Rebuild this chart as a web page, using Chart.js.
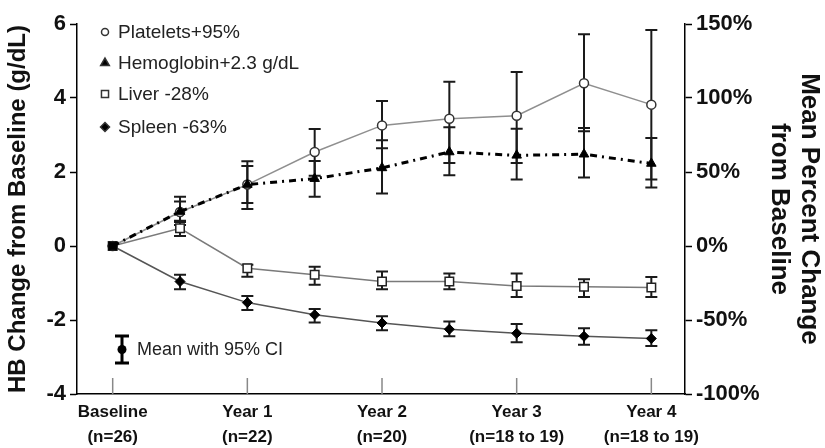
<!DOCTYPE html>
<html>
<head>
<meta charset="utf-8">
<script src="https://cdn.jsdelivr.net/npm/chart.js@4.4.1/dist/chart.umd.min.js"></script>
<style>
	html, body { margin: 0; padding: 0; background: #fff; }
	#wrap { width: 825px; height: 448px; }
</style>
</head>
<body>
<div id="wrap"><canvas id="mycanvas" width="825" height="448"></canvas></div>
<script>
// visits every 6 months, 0 = baseline ... 8 = year 4
var visits = [0, 1, 2, 3, 4, 5, 6, 7, 8];
var tickPos = [0, 2, 4, 6, 8];
var tickLabels = [
	['Baseline', '(n=26)'],
	['Year 1', '(n=22)'],
	['Year 2', '(n=20)'],
	['Year 3', '(n=18 to 19)'],
	['Year 4', '(n=18 to 19)']
];

// hemoglobin, g/dL change (left axis)
var hemoglobin = [0, 0.93, 1.66, 1.82, 2.11, 2.54, 2.45, 2.48, 2.23];
var hemoglobinLow = [null, 0.57, 1.0, 1.33, 1.42, 1.91, 1.80, 1.85, 1.58];
var hemoglobinHigh = [null, 1.33, 2.29, 2.30, 2.86, 3.21, 3.17, 3.19, 2.92];

// percent change (right axis)
var platelets = [0, 23, 41.5, 63.5, 81.5, 86, 88, 110, 95.5];
var plateletsLow = [null, 17, 29, 47.5, 66, 56, 56, 77.5, 45];
var plateletsHigh = [null, 30, 54, 79, 98, 111, 117.5, 143, 146];

var liver = [0, 12, -15, -19.5, -24, -24, -27, -27.5, -28];
var liverLow = [null, 6.75, -20.75, -26.25, -29.25, -29.25, -34.5, -34.5, -34.5];
var liverHigh = [null, 16.25, -12.75, -14, -17.25, -18.5, -18.5, -22.5, -21];

var spleen = [0, -24, -38.25, -46.5, -52, -56.25, -59, -61, -62.5];
var spleenLow = [null, -29.25, -43.25, -51.75, -57, -61, -65, -66.75, -67.5];
var spleenHigh = [null, -19.5, -33.75, -42.5, -47.5, -51, -52.75, -55.5, -57];

var legendNames = ['Platelets+95%', 'Hemoglobin+2.3 g/dL', 'Liver -28%', 'Spleen -63%'];

function toPoints(arr) {
	var out = [];
	for (var i in arr) {
		out.push({x: visits[i], y: arr[i]});
	}
	return out;
}

var FONT = '"Liberation Sans", Arial, Helvetica, sans-serif';

var ciBars = {
	id: 'ciBars',
	beforeDatasetsDraw: function(chart) {
		var ctx = chart.ctx;
		var xs = chart.scales.x;
		chart.data.datasets.forEach(function(ds) {
			if (!ds.ciLow) return;
			var ys = chart.scales[ds.yAxisID];
			ctx.save();
			ctx.strokeStyle = '#1a1a1a';
			ctx.lineWidth = 2;
			for (var j = 0; j < ds.ciLow.length; j++) {
				if (ds.ciLow[j] === null) continue;
				var px = xs.getPixelForValue(visits[j]);
				var y1 = ys.getPixelForValue(ds.ciLow[j]);
				var y2 = ys.getPixelForValue(ds.ciHigh[j]);
				ctx.beginPath();
				ctx.moveTo(px, y1); ctx.lineTo(px, y2);
				ctx.moveTo(px - 6, y1); ctx.lineTo(px + 6, y1);
				ctx.moveTo(px - 6, y2); ctx.lineTo(px + 6, y2);
				ctx.stroke();
			}
			ctx.restore();
		});
	}
};

var extras = {
	id: 'extras',
	afterDraw: function(chart) {
		var ctx = chart.ctx;
		var area = chart.chartArea;
		var xs = chart.scales.x;
		ctx.save();

		// short inner ticks on the x axis
		ctx.strokeStyle = '#888';
		ctx.lineWidth = 1.5;
		tickPos.forEach(function(v) {
			var px = xs.getPixelForValue(v);
			ctx.beginPath();
			ctx.moveTo(px, area.bottom);
			ctx.lineTo(px, area.bottom - 16);
			ctx.stroke();
		});

		// legend top left
		var styles = [
			{pointStyle: 'circle', radius: 3.5, fill: '#fff'},
			{pointStyle: 'triangle', radius: 5, fill: '#000'},
			{pointStyle: 'rect', radius: 5, fill: '#fff'},
			{pointStyle: 'rectRot', radius: 4.5, fill: '#000'}
		];
		var rows = [8, 39, 70, 103];
		ctx.font = '19px ' + FONT;
		ctx.textBaseline = 'middle';
		ctx.textAlign = 'left';
		for (var i = 0; i < legendNames.length; i++) {
			var y = area.top + rows[i];
			ctx.fillStyle = styles[i].fill;
			ctx.strokeStyle = '#333';
			Chart.helpers.drawPoint(ctx, {pointStyle: styles[i].pointStyle, radius: styles[i].radius, rotation: 0, borderWidth: 1}, area.left + 28, y);
			ctx.fillStyle = '#222';
			ctx.fillText(legendNames[i], area.left + 41, y + 1);
		}

		// CI key
		var kx = area.left + 45, ky1 = area.bottom - 58, ky2 = area.bottom - 31;
		ctx.strokeStyle = '#000';
		ctx.lineWidth = 3;
		ctx.beginPath();
		ctx.moveTo(kx, ky1); ctx.lineTo(kx, ky2);
		ctx.moveTo(kx - 7, ky1); ctx.lineTo(kx + 7, ky1);
		ctx.moveTo(kx - 7, ky2); ctx.lineTo(kx + 7, ky2);
		ctx.stroke();
		ctx.fillStyle = '#000';
		ctx.beginPath();
		ctx.arc(kx, (ky1 + ky2) / 2, 4.5, 0, Math.PI * 2);
		ctx.fill();
		ctx.font = '18px ' + FONT;
		ctx.fillStyle = '#222';
		ctx.fillText('Mean with 95% CI', kx + 15, (ky1 + ky2) / 2 + 1);
		ctx.restore();
	}
};

var chartdata = {
	datasets: [
		{
			label: 'Hemoglobin',
			yAxisID: 'y',
			data: toPoints(hemoglobin),
			ciLow: hemoglobinLow,
			ciHigh: hemoglobinHigh,
			borderColor: '#000',
			borderWidth: 3,
			borderDash: [7, 5, 2, 5],
			pointStyle: function(c) { return c.dataIndex === 0 ? 'rect' : 'triangle'; },
			pointRadius: 5.5,
			pointBackgroundColor: '#000',
			pointBorderColor: '#000',
			pointBorderWidth: 1
		},
		{
			label: 'Platelets',
			yAxisID: 'yR',
			data: toPoints(platelets),
			ciLow: plateletsLow,
			ciHigh: plateletsHigh,
			borderColor: '#8f8f8f',
			borderWidth: 1.5,
			pointStyle: 'circle',
			pointRadius: 4.5,
			pointBackgroundColor: '#fff',
			pointBorderColor: '#333',
			pointBorderWidth: 1.5
		},
		{
			label: 'Liver',
			yAxisID: 'yR',
			data: toPoints(liver),
			ciLow: liverLow,
			ciHigh: liverHigh,
			borderColor: '#7a7a7a',
			borderWidth: 1.5,
			pointStyle: 'rect',
			pointRadius: 6,
			pointBackgroundColor: '#fff',
			pointBorderColor: '#222',
			pointBorderWidth: 1.5
		},
		{
			label: 'Spleen',
			yAxisID: 'yR',
			data: toPoints(spleen),
			ciLow: spleenLow,
			ciHigh: spleenHigh,
			borderColor: '#555',
			borderWidth: 1.5,
			pointStyle: 'rectRot',
			pointRadius: 5,
			pointBackgroundColor: '#000',
			pointBorderColor: '#000',
			pointBorderWidth: 1
		}
	]
};

var ctx = document.getElementById('mycanvas');

var LineGraph = new Chart(ctx, {
	type: 'line',
	data: chartdata,
	plugins: [ciBars, extras],
	options: {
		responsive: false,
		animation: false,
		devicePixelRatio: 1,
		layout: { padding: { top: 24, right: 0, bottom: 0, left: 0 } },
		plugins: {
			legend: { display: false },
			tooltip: { enabled: false }
		},
		elements: { line: { tension: 0 } },
		scales: {
			x: {
				type: 'linear',
				min: -0.53,
				max: 8.5,
				afterBuildTicks: function(scale) {
					scale.ticks = tickPos.map(function(v) { return {value: v}; });
				},
				afterFit: function(scale) { scale.height = 54; },
				grid: { display: true, drawOnChartArea: false, drawTicks: false },
				border: { display: true, color: '#000', width: 1.5 },
				ticks: {
					autoSkip: false,
					maxRotation: 0,
					padding: 6,
					color: '#111',
					font: { family: FONT, size: 17, weight: 'bold', lineHeight: 1.45 },
					callback: function(v) { return tickLabels[tickPos.indexOf(v)]; }
				}
			},
			y: {
				position: 'left',
				min: -4,
				max: 6,
				afterFit: function(scale) { scale.width = 77; },
				grid: { drawOnChartArea: false, drawTicks: true, tickLength: 7, tickColor: '#000', tickWidth: 1.5 },
				border: { display: true, color: '#000', width: 1.5 },
				ticks: {
					stepSize: 2,
					padding: 4,
					color: '#111',
					font: { family: FONT, size: 22, weight: 'bold' }
				},
				title: {
					display: true,
					text: 'HB Change from Baseline (g/dL)',
					color: '#111',
					padding: { top: 4, bottom: 0 },
					font: { family: FONT, size: 24, weight: 'bold' }
				}
			},
			yR: {
				position: 'right',
				min: -100,
				max: 150,
				afterFit: function(scale) { scale.width = 140; },
				grid: { drawOnChartArea: false, drawTicks: true, tickLength: 7, tickColor: '#000', tickWidth: 1.5 },
				border: { display: true, color: '#000', width: 1.5 },
				ticks: {
					stepSize: 50,
					padding: 4,
					color: '#111',
					font: { family: FONT, size: 22, weight: 'bold' },
					callback: function(v) { return v + '%'; }
				},
				title: {
					display: true,
					text: ['Mean Percent Change', 'from Baseline'],
					color: '#111',
					padding: { top: 1, bottom: 0 },
					font: { family: FONT, size: 26, weight: 'bold', lineHeight: 1.15 }
				}
			}
		}
	}
});
</script>
</body>
</html>
